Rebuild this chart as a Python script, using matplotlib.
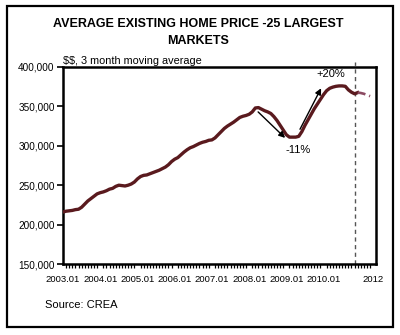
import numpy as np
import matplotlib
matplotlib.use("Agg")
import matplotlib.pyplot as plt
from matplotlib.patches import Rectangle
from matplotlib.ticker import FixedLocator

plt.rcParams['font.family'] = ['Liberation Sans', 'DejaVu Sans']

# Average existing home price, 25 largest markets, 3-month moving average
# (thousands of dollars), monthly from 2003.01
actual_price = [
    216, 217, 217.5, 218, 219, 219.5, 222, 226, 230, 233, 236, 239,        # 2003
    240.5, 241.5, 243, 245, 246, 248.5, 250, 249.5, 249, 250, 251.5, 254,  # 2004
    258, 261, 262.5, 263, 264.5, 266, 267.5, 269, 271, 273, 276, 280,      # 2005
    283, 285, 288.5, 292, 295, 297.5, 299, 301, 303, 304.5, 305.5, 307,    # 2006
    307.5, 310, 314, 318, 322, 325, 327.5, 330, 333, 336, 337.5, 338.5,    # 2007
    340, 343, 348, 348.5, 346.5, 344.5, 343, 341, 337, 332, 326, 320,      # 2008
    314, 311, 311, 311, 312, 318, 326, 333, 340, 347, 353, 359,            # 2009
    365, 370, 373, 374.5, 375.5, 376, 376, 375.5, 371, 368, 366, 367.5,    # 2010
]
forecast_price = [367.5, 367, 366, 364.5, 363]
forecast_start = len(actual_price) - 1
marker_month = 94

x_ticklabels = ["2003.01", "2004.01", "2005.01", "2006.01", "2007.01",
                "2008.01", "2009.01", "2010.01", "2012"]
x_tickpos = [0, 12, 24, 36, 48, 60, 72, 84, 100]
y_ticks = [150, 200, 250, 300, 350, 400]
y_ticklabels = ["150,000", "200,000", "250,000", "300,000", "350,000", "400,000"]

line_color = "#5a1a1e"
forecast_color = "#8b4a62"

fig = plt.figure(figsize=(4.0, 3.35), dpi=100)
fig.patch.set_facecolor("white")

# outer frame
fig.patches.append(Rectangle((7 / 400, 1 - 327 / 335), 386 / 400, 321 / 335,
                             transform=fig.transFigure, fill=False,
                             edgecolor="black", linewidth=1.6))

ax = fig.add_axes([63 / 400, 1 - 264 / 335, 313 / 400, 197 / 335])

months = np.arange(len(actual_price))
ax.plot(months, actual_price, color=line_color, lw=2.4, solid_joinstyle="round",
        zorder=3)
fmonths = np.arange(forecast_start, forecast_start + len(forecast_price))
ax.plot(fmonths, forecast_price, color=forecast_color, lw=1.9,
        dashes=(3, 1.5), zorder=3)

# start of forecast marker
ax.plot([marker_month, marker_month], [150, 406], color="#555555", lw=1.0,
        dashes=(3, 2.5), clip_on=False, zorder=2)

ax.set_xlim(0, 100.9)
ax.set_ylim(150, 400)

ax.set_yticks(y_ticks)
ax.set_yticklabels(y_ticklabels, fontsize=7.2)
ax.set_xticks(x_tickpos)
ax.set_xticklabels(x_ticklabels, fontsize=6.8)
ax.xaxis.set_minor_locator(FixedLocator(np.arange(0, 101)))
ax.tick_params(axis="x", which="major", length=0, pad=8)
ax.tick_params(axis="x", which="minor", length=3, width=0.9, direction="out")
ax.tick_params(axis="y", length=4, width=1.2, direction="out", pad=2)

for sp in ax.spines.values():
    sp.set_linewidth(1.8)
    sp.set_color("black")

# percent-change arrows
ax.annotate("", xy=(71.6, 310), xytext=(62.9, 343),
            arrowprops=dict(arrowstyle="-|>", color="black", lw=1.0,
                            mutation_scale=9, shrinkA=0, shrinkB=0), zorder=4)
ax.annotate("", xy=(83.2, 373), xytext=(76.4, 321),
            arrowprops=dict(arrowstyle="-|>", color="black", lw=1.0,
                            mutation_scale=9, shrinkA=0, shrinkB=0), zorder=4)
ax.text(75.8, 295, "-11%", fontsize=8, ha="center", va="center")
ax.text(86.4, 391, "+20%", fontsize=8, ha="center", va="center", clip_on=False)

fig.text(198 / 400, 1 - 24 / 335, "AVERAGE EXISTING HOME PRICE -25 LARGEST",
         ha="center", va="center", fontsize=9, fontweight="bold")
fig.text(198 / 400, 1 - 41 / 335, "MARKETS",
         ha="center", va="center", fontsize=9, fontweight="bold")
fig.text(63 / 400, 1 - 61 / 335, r"\$\$, 3 month moving average",
         ha="left", va="center", fontsize=7.8)
fig.text(45 / 400, 1 - 305 / 335, "Source: CREA",
         ha="left", va="center", fontsize=8)

fig.savefig("out.png", dpi=100)
